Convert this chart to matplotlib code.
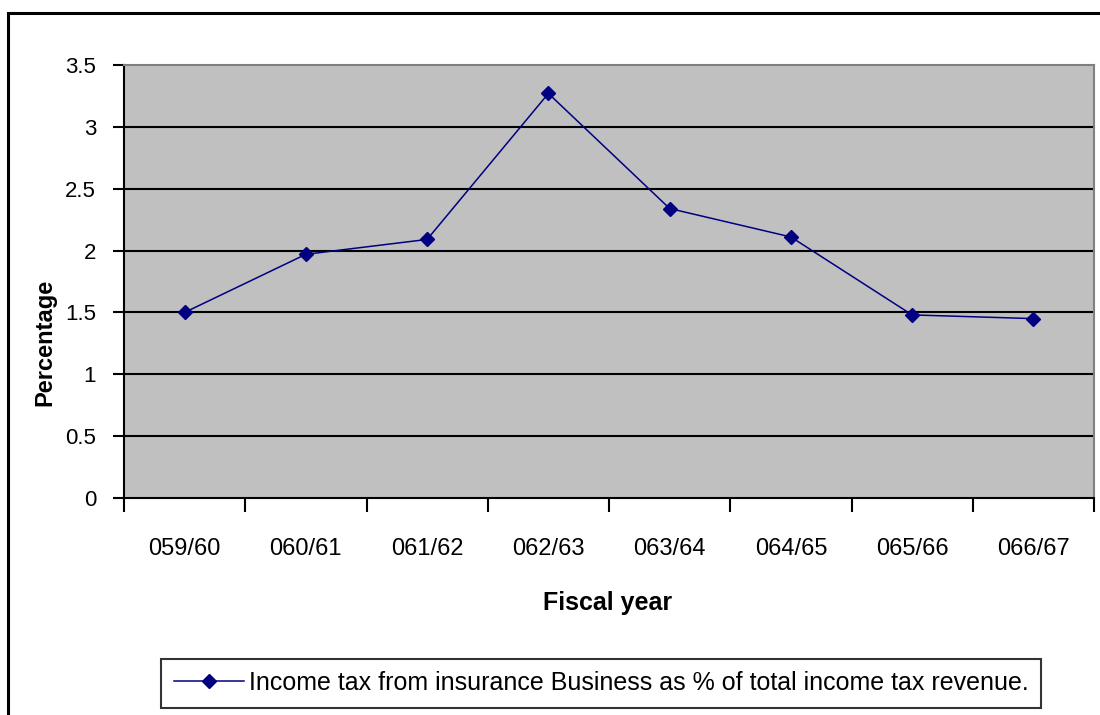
import matplotlib
matplotlib.use("Agg")
import matplotlib.pyplot as plt
from matplotlib.patches import Rectangle
from matplotlib.ticker import FixedLocator, NullFormatter

years = ["059/60", "060/61", "061/62", "062/63", "063/64", "064/65", "065/66", "066/67"]
share = [1.50, 1.97, 2.09, 3.27, 2.34, 2.11, 1.48, 1.45]
y_ticks = [0, 0.5, 1, 1.5, 2, 2.5, 3, 3.5]
y_labels = ["0", "0.5", "1", "1.5", "2", "2.5", "3", "3.5"]
series_name = "Income tax from insurance Business as % of total income tax revenue."

font = ["Liberation Sans Narrow", "Liberation Sans", "DejaVu Sans"]
plt.rcParams["font.family"] = font

W, H = 1100, 715
fig = plt.figure(figsize=(W / 100, H / 100), dpi=100)

# outer chart frame
fig.patches.append(Rectangle((8 / W, -0.01), 1.2, (H - 13) / H + 0.01,
                             transform=fig.transFigure, fill=False,
                             edgecolor="black", linewidth=2.2))

ax = fig.add_axes([124 / W, 1 - 498 / H, (1094 - 124) / W, (498 - 65) / H])
ax.set_facecolor("#C0C0C0")

x = list(range(len(years)))
ax.plot(x, share, color="#000080", linewidth=1.1, marker="D", markersize=7,
        markerfacecolor="#000080", markeredgecolor="#000080",
        label=series_name, zorder=3)

ax.set_xlim(-0.5, len(years) - 0.5)
ax.set_ylim(0, 3.5)
ax.set_yticks(y_ticks)
ax.set_yticklabels(y_labels, fontsize=16)
for yv in y_ticks[1:-1]:
    ax.axhline(yv, color="black", linewidth=1.5, zorder=1)

# category boundaries carry the tick marks; labels sit at category centres
ax.xaxis.set_major_locator(FixedLocator([i - 0.5 for i in range(len(years) + 1)]))
ax.xaxis.set_major_formatter(NullFormatter())
ax.xaxis.set_minor_locator(FixedLocator(x))
ax.set_xticklabels(years, minor=True, fontsize=17)
ax.tick_params(axis="x", which="major", direction="out", length=10, width=1.5)
ax.tick_params(axis="x", which="minor", length=0, pad=29)
ax.tick_params(axis="y", direction="out", length=8, width=1.5, pad=12)

for side in ("top", "right"):
    ax.spines[side].set_color("#808080")
    ax.spines[side].set_linewidth(1.5)
for side in ("left", "bottom"):
    ax.spines[side].set_color("black")
    ax.spines[side].set_linewidth(1.5)

fig.text(608 / W, 1 - 603 / H, "Fiscal year", ha="center", va="center",
         fontsize=18, fontweight="bold")
fig.text(45 / W, 1 - 342 / H, "Percentage", ha="center", va="center",
         rotation=90, fontsize=17, fontweight="bold")

leg = fig.legend(loc="center", bbox_to_anchor=(601 / W, 1 - 683 / H),
                 fontsize=18, frameon=True, fancybox=False,
                 edgecolor="black", handlelength=2.8, handletextpad=0.2,
                 borderpad=0.5, markerscale=1.0)
leg.get_frame().set_linewidth(1.5)

fig.savefig("out.png", dpi=100, facecolor="white")
